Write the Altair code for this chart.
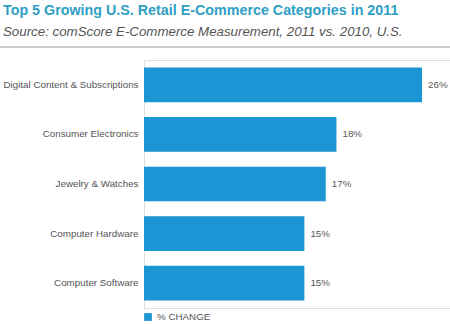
import altair as alt
import pandas as pd

categories = ["Digital Content & Subscriptions", "Consumer Electronics", "Jewelry & Watches",
              "Computer Hardware", "Computer Software"]
values = [26, 18, 17, 15, 15]
labels = ["26%", "18%", "17%", "15%", "15%"]
series = ["% CHANGE"] * 5

df = pd.DataFrame({"cat": categories, "val": values, "lab": labels, "series": series})

FONT = "Liberation Sans"
BAR = "#1b95d3"
GREY = "#555555"

x = alt.X("val:Q", scale=alt.Scale(domain=[0, 28.62], nice=False), axis=None)
y = alt.Y("cat:N", sort=categories, title=None,
          scale=alt.Scale(paddingInner=0.3, paddingOuter=0.15),
          axis=alt.Axis(ticks=False, domain=False, labelPadding=6, labelFontSize=9.8,
                        labelColor=GREY, labelFont=FONT, labelLimit=200))

bars = alt.Chart(df).mark_bar().encode(
    x=x, y=y,
    color=alt.Color("series:N", scale=alt.Scale(range=[BAR]),
                    legend=alt.Legend(title=None, orient="none", legendX=-1, legendY=252,
                                      symbolType="square", symbolSize=60, labelFontSize=9.8,
                                      labelColor=GREY, labelFont=FONT, padding=0)),
)
text = alt.Chart(df).mark_text(align="left", baseline="middle", dx=6, fontSize=9.8,
                               color=GREY, font=FONT).encode(x=x, y=y, text="lab:N")

rule = alt.Chart(pd.DataFrame({"a": [0]})).mark_rule(color="#cccccc", strokeWidth=2).encode(
    x=alt.value(-144), x2=alt.value(306), y=alt.value(-13))

chart = alt.layer(bars, text, rule).properties(
    width=306, height=248,
    autosize=alt.AutoSizeParams(type="none"),
    padding={"left": 144, "top": 60, "right": 0, "bottom": 16},
    title=alt.TitleParams(
        text="Top 5 Growing U.S. Retail E-Commerce Categories in 2011",
        subtitle="Source: comScore E-Commerce Measurement, 2011 vs. 2010, U.S.",
        anchor="start", frame="group", dx=-141, fontSize=14.3, fontWeight="bold", font=FONT,
        color="#2fa0c4", subtitleFont=FONT, subtitleFontSize=13.3,
        subtitleFontStyle="italic", subtitleColor=GREY, offset=8, subtitlePadding=6),
).configure_view(stroke=None).configure(background="white")

chart.save("out.html", embed_options={"renderer": "svg", "actions": False})
